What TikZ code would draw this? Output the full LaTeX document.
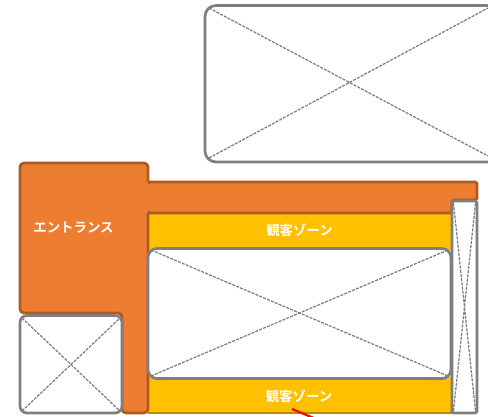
\documentclass[tikz,border=0pt]{standalone}
\usepackage{fontspec}
\newfontfamily\cjk{Noto Sans CJK JP}[BoldFont={* Bold}]
\definecolor{orangefill}{HTML}{ED7D31}
\definecolor{orangeedge}{HTML}{AE5A21}
\definecolor{yellowfill}{HTML}{FFC000}
\definecolor{yellowedge}{HTML}{BC8C00}
\definecolor{wire}{HTML}{7F7F7F}
\tikzset{
  orangezone/.style={fill=orangefill,draw=orangeedge,line width=2.8pt,line join=round},
  yellowzone/.style={fill=yellowfill,draw=none},
  wirebox/.style={fill=white,draw=wire,line width=2.7pt},
  wirecross/.style={draw=wire,line width=1.25pt,dash pattern=on 3pt off 1.2pt},
  zonelabel/.style={text=white,font=\cjk\bfseries\fontsize{13.4}{15}\selectfont,inner sep=0pt}
}
\begin{document}
\begin{tikzpicture}[x=1pt,y=-1pt]
\useasboundingbox (0,0) rectangle (488,417);
\clip (0,0) rectangle (488,417);
% yellow zones
\fill[yellowzone] (148,212) rectangle (452,250);
\fill[yellowzone] (148,377) rectangle (452,412.5);
\draw[yellowedge,line width=1.6pt] (148,413) -- (452,413);
% orange corridor, entrance and column
\draw[orangezone,rounded corners=1.5pt] (148,182) -- (477,182) -- (477,200) -- (452,200) -- (452,213) -- (148,213) -- cycle;
\draw[orangezone,rounded corners=4pt] (148,182) -- (148,163) -- (20,163) -- (20,313) -- (122,313) -- (122,413) -- (148,413) -- (148,213);
\fill[orangefill] (144,184) rectangle (152,211);
% wireframe boxes
\draw[wirebox,rounded corners=11pt] (205,5.5) rectangle (500,162);
\draw[wirecross] (209,8) -- (488,156) (209,158) -- (488,8);
\draw[wirebox,rounded corners=9pt] (148,248.5) rectangle (451,378.5);
\draw[wirecross] (151,250) -- (448,376) (151,376) -- (448,250);
\draw[wirebox,rounded corners=7pt] (20,315.5) rectangle (122,413);
\draw[wirecross] (22,318) -- (120,411) (22,411) -- (120,318);
\draw[wirebox,rounded corners=1.5pt] (452,201) rectangle (477,413);
\draw[wirecross] (453.5,203) -- (475.5,411) (453.5,411) -- (475.5,203);
% red stub
\draw[red,line width=2.2pt] (292,409) -- (316,419);
% labels
\node[zonelabel] (entrance) at (73.5,228) {エントランス};
\node[zonelabel] (zoneupper) at (299.5,230) {観客ゾーン};
\node[zonelabel] (zonelower) at (299,396) {観客ゾーン};
\end{tikzpicture}
\end{document}
